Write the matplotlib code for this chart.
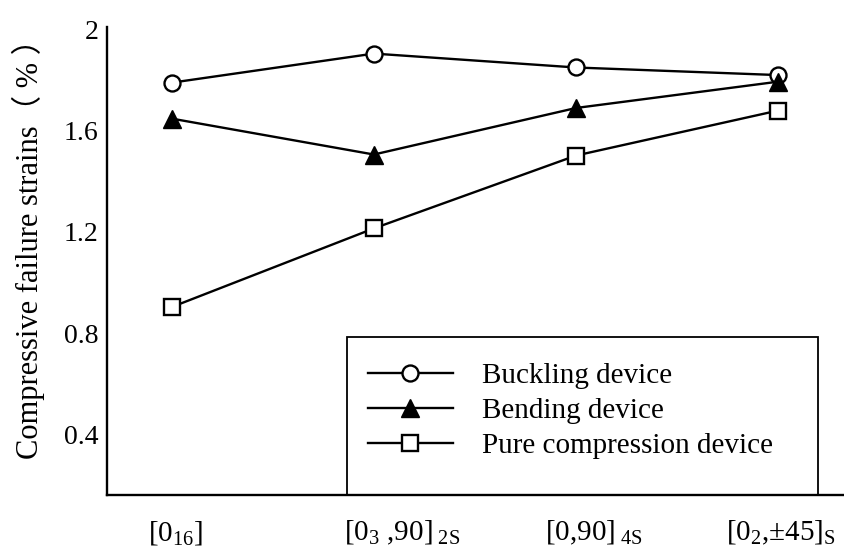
import matplotlib
matplotlib.use("Agg")
import matplotlib.pyplot as plt
from matplotlib.patches import Rectangle
from matplotlib.transforms import ScaledTranslation
import numpy as np

# layups on the x axis
layups = ["[0$_{16}$]",
          "[0$_{3}$ ,90]$_{\\ \\rm 2S}$",
          "[0,90]$_{\\ \\rm 4S}$",
          "[0$_{2}$,±45]$_{\\rm S}$"]

# compressive failure strains (%)
buckling = [1.79, 1.905, 1.85, 1.82]
bending = [1.648, 1.506, 1.69, 1.794]
pure_comp = [0.903, 1.214, 1.502, 1.68]

series_names = ["Buckling device", "Bending device", "Pure compression device"]

plt.rcParams['font.family'] = ['Liberation Serif', 'DejaVu Serif']
plt.rcParams['mathtext.fontset'] = 'custom'
plt.rcParams['mathtext.rm'] = 'Liberation Serif'
plt.rcParams['mathtext.it'] = 'Liberation Serif:italic'
plt.rcParams['mathtext.default'] = 'rm'

fig = plt.figure(figsize=(8.45, 5.56), dpi=100)
ax = fig.add_axes([0.1266, 0.1097, 0.8734, 0.8417])

x = np.arange(len(layups))
ax.plot(x, buckling, 'k-', lw=1.7, marker='o', ms=11.5, mfc='white', mec='k', mew=1.7, label=series_names[0])
ax.plot(x, bending, 'k-', lw=1.7, marker='^', ms=13.5, mfc='k', mec='k', mew=1, label=series_names[1])
ax.plot(x, pure_comp, 'k-', lw=1.7, marker='s', ms=12, mfc='white', mec='k', mew=1.7, label=series_names[2])

ax.set_xlim(-0.32, 3.33)
ax.set_ylim(0.16, 2.01)
ax.set_xticks(x)
ax.set_xticklabels(layups, fontsize=21)
ax.set_yticks([0.4, 0.8, 1.2, 1.6, 2.0])
ax.set_yticklabels(["0.4", "0.8", "1.2", "1.6", "2"], fontsize=20)
ax.tick_params(axis='both', length=0)
ax.tick_params(axis='x', pad=17)
ax.tick_params(axis='y', pad=6)
ax.spines['top'].set_visible(False)
ax.spines['right'].set_visible(False)
ax.spines['left'].set_linewidth(1.7)
ax.spines['bottom'].set_linewidth(1.7)

# subscripts hang to the right of the centred brackets
for lab, dx in zip(ax.get_xticklabels(), [4, 28, 18, 3]):
    lab.set_transform(lab.get_transform() + ScaledTranslation(dx / 100, 0, fig.dpi_scale_trans))

fig.text(28 / 845, 1 - 241 / 556, "Compressive failure strains（ % ）", rotation=90,
         ha='center', va='center', fontsize=22,
         family=['Liberation Serif', 'Noto Sans CJK SC'])

# legend box running down to the x axis
ax.add_patch(Rectangle((0.325, 0.0), 0.638, 0.338, transform=ax.transAxes,
                       fill=False, ec='k', lw=1.3, clip_on=False))
ax.legend(loc='upper left', bbox_to_anchor=(0.3537, 0.282), frameon=False,
          fontsize=21, handlelength=2.9, handletextpad=1.0, labelspacing=0.29,
          borderpad=0, borderaxespad=0)

fig.savefig("out.png", dpi=100)
